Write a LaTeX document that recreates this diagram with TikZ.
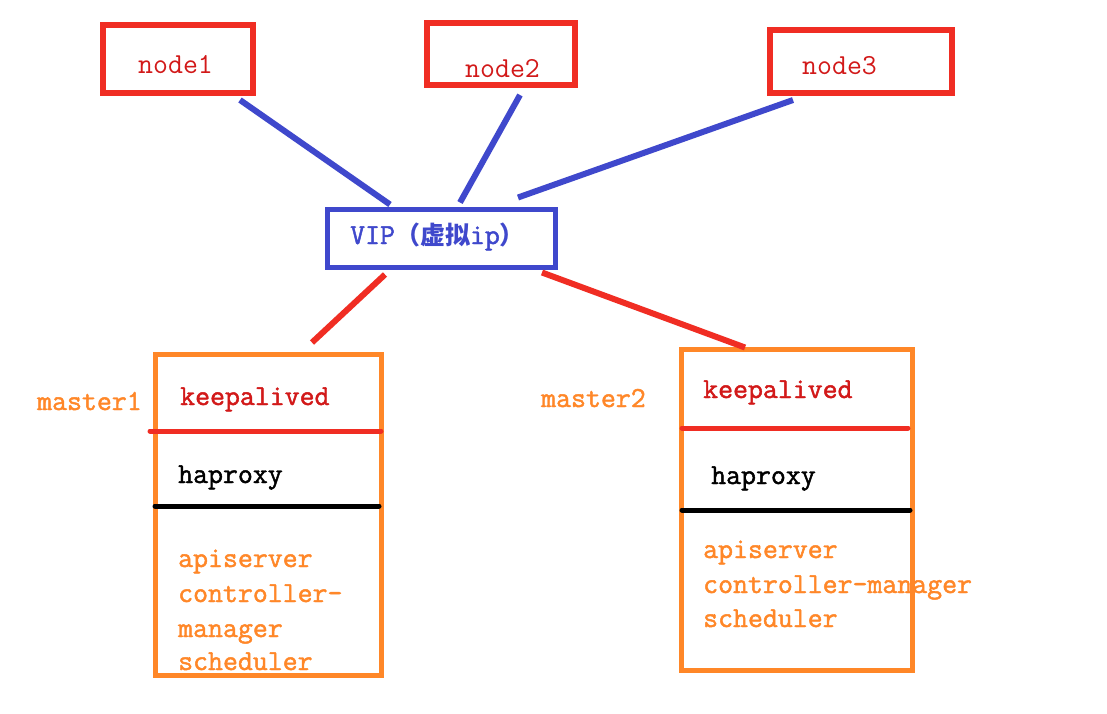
\documentclass[tikz,border=0pt]{standalone}
\usepackage{fontspec}
\setmonofont{Latin Modern Mono}[AutoFakeBold=1.6]
\newfontfamily\cjk{Noto Sans CJK SC}
\usetikzlibrary{calc}
\definecolor{pred}{RGB}{240,45,35}
\definecolor{pblue}{RGB}{63,72,204}
\definecolor{porange}{RGB}{255,135,40}
\definecolor{tred}{RGB}{210,25,25}
\tikzset{
  hostbox/.style={draw=pred,line width=6pt,inner sep=0pt},
  vipbox/.style={draw=pblue,line width=5pt,inner sep=0pt},
  masterbox/.style={draw=porange,line width=5pt,inner sep=0pt,minimum height=321pt},
  bluelink/.style={draw=pblue,line width=6pt},
  redlink/.style={draw=pred,line width=6pt},
  txt/.style={anchor=base west,inner sep=0pt,font=\fontsize{29}{30}\ttfamily\bfseries},
  thintxt/.style={txt,font=\fontsize{29}{30}\ttfamily}
}
\begin{document}
\begin{tikzpicture}[x=1pt,y=-1pt]
      \useasboundingbox[fill=white] (0,0) rectangle (1107,713);
      % nodes on top
      \node[hostbox,minimum width=150pt,minimum height=68pt] (node1) at (178,59) {};
      \node[hostbox,minimum width=148pt,minimum height=62pt] (node2) at (501,54) {};
      \node[hostbox,minimum width=182pt,minimum height=63pt] (node3) at (861,61.5) {};
      \node[thintxt,text=tred] (n1txt) at (138,73) {node1};
      \node[thintxt,text=tred] (n2txt) at (465,77) {node2};
      \node[thintxt,text=tred] (n3txt) at (802,74) {node3};
      % virtual ip
      \node[vipbox,minimum width=228pt,minimum height=58pt] (vip) at (441.5,238.5) {};
      \node[txt,text=pblue] (viptxt) at (350,244) {VIP{\cjk\fontsize{25}{30}\selectfont （虚拟}ip{\cjk\fontsize{25}{30}\selectfont ）}};
      % masters
      \node[masterbox,minimum width=226pt] (m1) at (268.5,515) {};
      \node[masterbox,minimum width=231pt] (m2) at (797,510) {};
      \draw[pred,line width=5pt,line cap=round] (150,431) -- (381,431);
      \draw[black,line width=5pt,line cap=round] (155,506) -- (379,506);
      \draw[pred,line width=5pt,line cap=round] (682,428) -- (908,428);
      \draw[black,line width=5pt,line cap=round] (682,510) -- (910,510);
      \node[txt,text=porange] (m1name) at (37,410) {master1};
      \node[txt,text=tred] (m1ka) at (180,405) {keepalived};
      \node[txt,text=black] (m1ha) at (178,483) {haproxy};
      \node[txt,text=porange] (m1api) at (178,567) {apiserver};
      \node[txt,text=porange] (m1cm) at (178,602) {controller-};
      \node[txt,text=porange] (m1mg) at (178,637) {manager};
      \node[txt,text=porange] (m1sc) at (178,670) {scheduler};
      \node[txt,text=porange] (m2name) at (541,407) {master2};
      \node[txt,text=tred] (m2ka) at (703,398) {keepalived};
      \node[txt,text=black] (m2ha) at (711,484) {haproxy};
      \node[txt,text=porange] (m2api) at (703,558) {apiserver};
      \node[txt,text=porange] (m2cm) at (703,593) {controller-manager};
      \node[txt,text=porange] (m2sc) at (703,627) {scheduler};
      % links
      \draw[bluelink] ($(node1.south)+(62,4)$) -- ($(vip.north)+(-51.5,-2.5)$);
      \draw[bluelink] ($(node2.south)+(19,7)$) -- ($(vip.north)+(18.5,-4.5)$);
      \draw[bluelink] ($(node3.south)+(-68,4)$) -- ($(vip.north)+(76.5,-9.5)$);
      \draw[redlink] ($(vip.south)+(-56.5,4.5)$) -- ($(m1.north)+(43.5,-9.5)$);
      \draw[redlink] ($(vip.south)+(100.5,2.5)$) -- ($(m2.north)+(-52,0.5)$);
\end{tikzpicture}
\end{document}
